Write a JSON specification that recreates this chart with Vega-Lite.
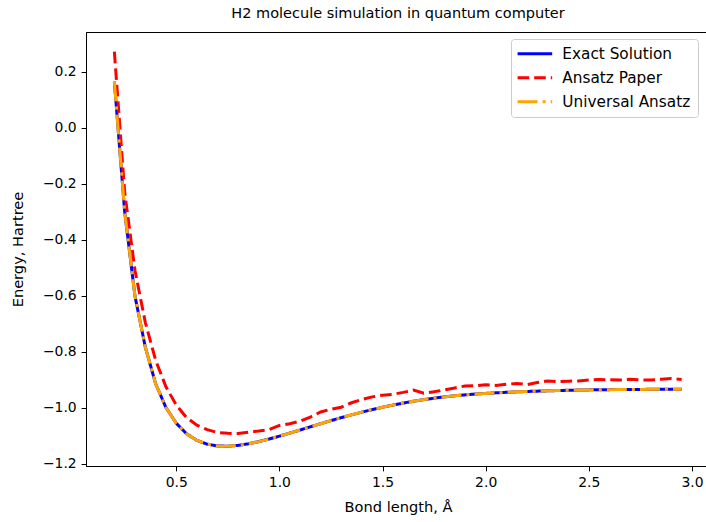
{
  "$schema": "https://vega.github.io/schema/vega-lite/v6.json",
  "autosize": {"type": "none"},
  "padding": {"left": 86, "top": 32, "right": 0, "bottom": 56},
  "width": 624,
  "height": 434,
  "title": {"text": "H2 molecule simulation in quantum computer"},
  "data": {"values": [
    {"x": 0.2, "Exact Solution": 0.1646, "Ansatz Paper": 0.271, "Universal Ansatz": 0.1646},
    {"x": 0.25, "Exact Solution": -0.300, "Ansatz Paper": -0.23, "Universal Ansatz": -0.300},
    {"x": 0.3, "Exact Solution": -0.6018, "Ansatz Paper": -0.51, "Universal Ansatz": -0.6018},
    {"x": 0.35, "Exact Solution": -0.7832, "Ansatz Paper": -0.695, "Universal Ansatz": -0.7832},
    {"x": 0.4, "Exact Solution": -0.9141, "Ansatz Paper": -0.83, "Universal Ansatz": -0.9141},
    {"x": 0.45, "Exact Solution": -0.999, "Ansatz Paper": -0.925, "Universal Ansatz": -0.999},
    {"x": 0.5, "Exact Solution": -1.0551, "Ansatz Paper": -0.99, "Universal Ansatz": -1.0551},
    {"x": 0.55, "Exact Solution": -1.0926, "Ansatz Paper": -1.035, "Universal Ansatz": -1.0926},
    {"x": 0.6, "Exact Solution": -1.1163, "Ansatz Paper": -1.062, "Universal Ansatz": -1.1163},
    {"x": 0.65, "Exact Solution": -1.1298, "Ansatz Paper": -1.078, "Universal Ansatz": -1.1298},
    {"x": 0.7, "Exact Solution": -1.1362, "Ansatz Paper": -1.088, "Universal Ansatz": -1.1362},
    {"x": 0.75, "Exact Solution": -1.1371, "Ansatz Paper": -1.091, "Universal Ansatz": -1.1371},
    {"x": 0.8, "Exact Solution": -1.1341, "Ansatz Paper": -1.092, "Universal Ansatz": -1.1341},
    {"x": 0.85, "Exact Solution": -1.1283, "Ansatz Paper": -1.087, "Universal Ansatz": -1.1283},
    {"x": 0.9, "Exact Solution": -1.1206, "Ansatz Paper": -1.083, "Universal Ansatz": -1.1206},
    {"x": 0.95, "Exact Solution": -1.1115, "Ansatz Paper": -1.078, "Universal Ansatz": -1.1115},
    {"x": 1.0, "Exact Solution": -1.1012, "Ansatz Paper": -1.063, "Universal Ansatz": -1.1012},
    {"x": 1.05, "Exact Solution": -1.0904, "Ansatz Paper": -1.057, "Universal Ansatz": -1.0904},
    {"x": 1.1, "Exact Solution": -1.0792, "Ansatz Paper": -1.048, "Universal Ansatz": -1.0792},
    {"x": 1.15, "Exact Solution": -1.0679, "Ansatz Paper": -1.033, "Universal Ansatz": -1.0679},
    {"x": 1.2, "Exact Solution": -1.0567, "Ansatz Paper": -1.015, "Universal Ansatz": -1.0567},
    {"x": 1.25, "Exact Solution": -1.0457, "Ansatz Paper": -1.005, "Universal Ansatz": -1.0457},
    {"x": 1.3, "Exact Solution": -1.0351, "Ansatz Paper": -0.998, "Universal Ansatz": -1.0351},
    {"x": 1.35, "Exact Solution": -1.025, "Ansatz Paper": -0.982, "Universal Ansatz": -1.025},
    {"x": 1.4, "Exact Solution": -1.0154, "Ansatz Paper": -0.970, "Universal Ansatz": -1.0154},
    {"x": 1.45, "Exact Solution": -1.0064, "Ansatz Paper": -0.961, "Universal Ansatz": -1.0064},
    {"x": 1.5, "Exact Solution": -0.9981, "Ansatz Paper": -0.955, "Universal Ansatz": -0.9981},
    {"x": 1.55, "Exact Solution": -0.9903, "Ansatz Paper": -0.952, "Universal Ansatz": -0.9903},
    {"x": 1.6, "Exact Solution": -0.9831, "Ansatz Paper": -0.945, "Universal Ansatz": -0.9831},
    {"x": 1.65, "Exact Solution": -0.9766, "Ansatz Paper": -0.937, "Universal Ansatz": -0.9766},
    {"x": 1.7, "Exact Solution": -0.9708, "Ansatz Paper": -0.948, "Universal Ansatz": -0.9708},
    {"x": 1.75, "Exact Solution": -0.9656, "Ansatz Paper": -0.943, "Universal Ansatz": -0.9656},
    {"x": 1.8, "Exact Solution": -0.961, "Ansatz Paper": -0.936, "Universal Ansatz": -0.961},
    {"x": 1.85, "Exact Solution": -0.957, "Ansatz Paper": -0.929, "Universal Ansatz": -0.957},
    {"x": 1.9, "Exact Solution": -0.9537, "Ansatz Paper": -0.922, "Universal Ansatz": -0.9537},
    {"x": 1.95, "Exact Solution": -0.9509, "Ansatz Paper": -0.921, "Universal Ansatz": -0.9509},
    {"x": 2.0, "Exact Solution": -0.9486, "Ansatz Paper": -0.918, "Universal Ansatz": -0.9486},
    {"x": 2.05, "Exact Solution": -0.9465, "Ansatz Paper": -0.920, "Universal Ansatz": -0.9465},
    {"x": 2.1, "Exact Solution": -0.9447, "Ansatz Paper": -0.916, "Universal Ansatz": -0.9447},
    {"x": 2.15, "Exact Solution": -0.9431, "Ansatz Paper": -0.913, "Universal Ansatz": -0.9431},
    {"x": 2.2, "Exact Solution": -0.9417, "Ansatz Paper": -0.917, "Universal Ansatz": -0.9417},
    {"x": 2.25, "Exact Solution": -0.9405, "Ansatz Paper": -0.910, "Universal Ansatz": -0.9405},
    {"x": 2.3, "Exact Solution": -0.9394, "Ansatz Paper": -0.904, "Universal Ansatz": -0.9394},
    {"x": 2.35, "Exact Solution": -0.9384, "Ansatz Paper": -0.907, "Universal Ansatz": -0.9384},
    {"x": 2.4, "Exact Solution": -0.9375, "Ansatz Paper": -0.905, "Universal Ansatz": -0.9375},
    {"x": 2.45, "Exact Solution": -0.9367, "Ansatz Paper": -0.904, "Universal Ansatz": -0.9367},
    {"x": 2.5, "Exact Solution": -0.936, "Ansatz Paper": -0.901, "Universal Ansatz": -0.936},
    {"x": 2.55, "Exact Solution": -0.9355, "Ansatz Paper": -0.899, "Universal Ansatz": -0.9355},
    {"x": 2.6, "Exact Solution": -0.9351, "Ansatz Paper": -0.900, "Universal Ansatz": -0.9351},
    {"x": 2.65, "Exact Solution": -0.9348, "Ansatz Paper": -0.901, "Universal Ansatz": -0.9348},
    {"x": 2.7, "Exact Solution": -0.9345, "Ansatz Paper": -0.898, "Universal Ansatz": -0.9345},
    {"x": 2.75, "Exact Solution": -0.9343, "Ansatz Paper": -0.900, "Universal Ansatz": -0.9343},
    {"x": 2.8, "Exact Solution": -0.9341, "Ansatz Paper": -0.901, "Universal Ansatz": -0.9341},
    {"x": 2.85, "Exact Solution": -0.9339, "Ansatz Paper": -0.898, "Universal Ansatz": -0.9339},
    {"x": 2.9, "Exact Solution": -0.9338, "Ansatz Paper": -0.895, "Universal Ansatz": -0.9338},
    {"x": 2.95, "Exact Solution": -0.9337, "Ansatz Paper": -0.899, "Universal Ansatz": -0.9337}
  ]},
  "transform": [{"fold": ["Exact Solution", "Ansatz Paper", "Universal Ansatz"], "as": ["series", "E"]}],
  "encoding": {
    "x": {"field": "x", "type": "quantitative",
      "scale": {"domain": [0.0625, 3.0875], "nice": false, "zero": false},
      "axis": {"values": [0.5, 1, 1.5, 2, 2.5, 3], "format": ".1f", "title": "Bond length, Å", "titlePadding": 10}},
    "y": {"field": "E", "type": "quantitative",
      "scale": {"domain": [-1.2077, 0.3414], "nice": false, "zero": false},
      "axis": {"values": [-1.2, -1.0, -0.8, -0.6, -0.4, -0.2, 0, 0.2], "format": ".1f", "title": "Energy, Hartree", "titlePadding": 17}},
    "color": {"field": "series", "type": "nominal", "title": null,
      "scale": {"domain": ["Exact Solution", "Ansatz Paper", "Universal Ansatz"], "range": ["#0000ff", "#ff0000", "#ffa500"]}},
    "strokeDash": {"field": "series", "type": "nominal", "title": null,
      "scale": {"domain": ["Exact Solution", "Ansatz Paper", "Universal Ansatz"], "range": [[1, 0], [11.6, 5], [20, 5, 3.1, 5]]}}
  },
  "layer": [
    {"transform": [{"filter": "datum.series === 'Exact Solution'"}], "mark": {"type": "line", "strokeWidth": 3}},
    {"transform": [{"filter": "datum.series === 'Ansatz Paper'"}], "mark": {"type": "line", "strokeWidth": 3}},
    {"transform": [{"filter": "datum.series === 'Universal Ansatz'"}], "mark": {"type": "line", "strokeWidth": 3}}
  ],
  "config": {
    "font": "DejaVu Sans",
    "view": {"stroke": "#000000", "strokeWidth": 1},
    "title": {"fontSize": 14.5, "fontWeight": "normal", "color": "#000000", "offset": 11, "anchor": "middle", "font": "DejaVu Sans"},
    "axis": {"grid": false, "domainColor": "#000000", "domainWidth": 1, "tickColor": "#000000", "tickSize": 4.9, "tickWidth": 1,
      "labelPadding": 4.9, "labelFontSize": 13.9, "labelColor": "#000000", "labelFont": "DejaVu Sans", "labelFlush": false,
      "titleFontSize": 14.6, "titleFontWeight": "normal", "titleColor": "#000000", "titleFont": "DejaVu Sans"},
    "legend": {"orient": "none", "legendX": 425, "legendY": 7, "symbolType": "M-1.4,0H4.6", "symbolSize": 133, "symbolStrokeWidth": 3,
      "labelFontSize": 15.3, "labelFont": "DejaVu Sans", "labelColor": "#000000", "padding": 7, "strokeColor": "#cccccc",
      "fillColor": "#ffffff", "cornerRadius": 3, "labelOffset": 29, "rowPadding": 8}
  }
}
